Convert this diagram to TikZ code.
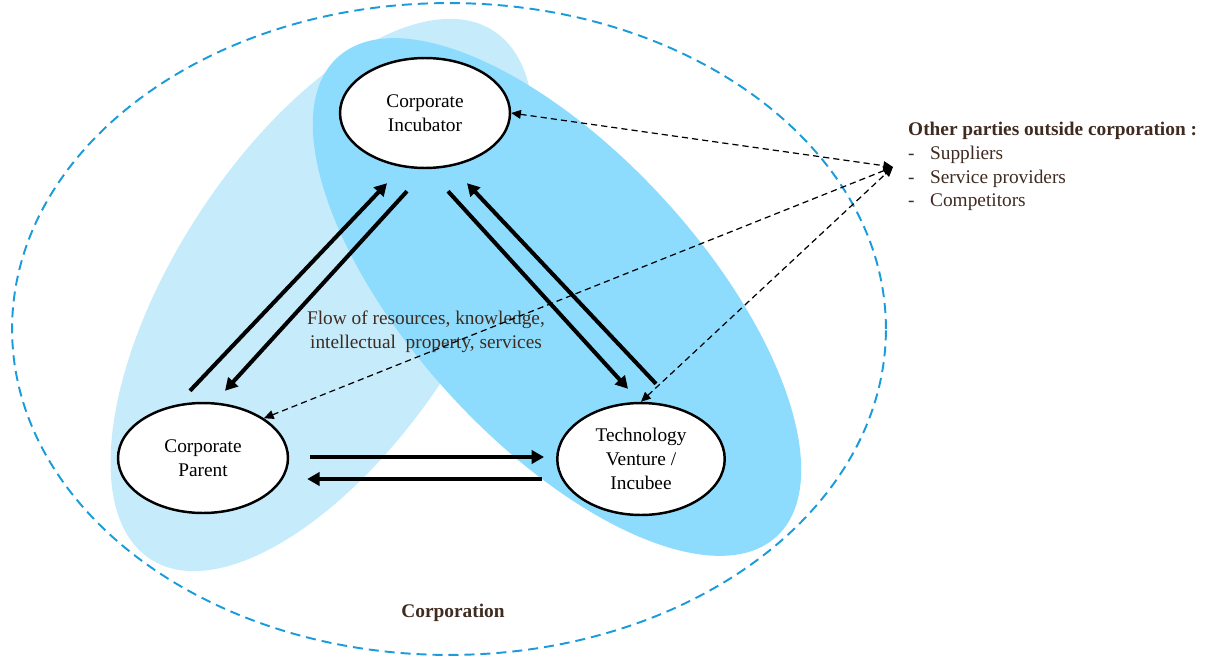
\documentclass[tikz,border=0pt]{standalone}
\usepackage{fontspec}
\setmainfont{Liberation Serif}
\usetikzlibrary{arrows.meta,shapes.geometric}

\definecolor{blobLight}{HTML}{C6ECFC}
\definecolor{blobDark}{HTML}{8EDCFD}
\definecolor{corpBlue}{HTML}{1A9BDA}
\definecolor{textBrown}{HTML}{3F2B20}

\tikzset{
    actor/.style={draw, ellipse, very thick, fill=white, line width=1.4pt,
        minimum width=3.4cm, minimum height=2.2cm, inner sep=0pt, align=center},
    flow/.style={line width=2.3pt, -{Triangle[length=7pt,width=7.5pt]}},
    extlink/.style={line width=0.7pt, dash pattern=on 3.5pt off 2.3pt,
        {Triangle[length=5.5pt,width=5pt]}-{Triangle[length=5.5pt,width=5pt]}},
    brownlabel/.style={text=textBrown}
}

\begin{document}
\begin{tikzpicture}[x=0.02cm, y=-0.02cm, font=\fontsize{11}{13.6}\selectfont]
    \useasboundingbox (0,0) rectangle (1207,659);

    % Corporation boundary
    \draw[corpBlue, line width=1.1pt, dash pattern=on 5.7pt off 3.4pt] (449,329) ellipse (8.74cm and 6.52cm);

    % Overlapping clusters
    \fill[blobLight, rotate around={57:(322,295)}] (322,295) ellipse (6.3cm and 2.95cm);
    \fill[blobDark, rotate around={-47.5:(557,297)}] (557,297) ellipse (6.5cm and 2.9cm);

    % Actors
    \node[actor] (inc) at (425,113) {Corporate\\Incubator};
    \node[actor] (par) at (203,458) {Corporate\\Parent};
    \node[actor, minimum width=3.35cm, minimum height=2.24cm] (ven) at (641,459) {Technology\\Venture /\\Incubee};

    % Flows between actors
    \draw[flow] ([shift={(-13,-11)}]par.north) -- ([shift={(-38,14)}]inc.south);
    \draw[flow] ([shift={(-18,22)}]inc.south) -- ([shift={(22,-11)}]par.north);
    \draw[flow] ([shift={(23,22)}]inc.south) -- ([shift={(-13,-13)}]ven.north);
    \draw[flow] ([shift={(15,-18)}]ven.north) -- ([shift={(42,14)}]inc.south);
    \draw[flow] ([shift={(21,-1)}]par.east) -- ([shift={(-12,-2)}]ven.west);
    \draw[flow] ([shift={(-14,20)}]ven.west) -- ([shift={(18,21)}]par.east);

    \node[brownlabel, align=center] (flowtext) at (426,332) {Flow of resources, knowledge,\\ intellectual\ \ property, services};

    % Outside parties
    \coordinate (ext) at (893,167);
    \draw[extlink] (inc.east) -- (ext);
    \draw[extlink] (par.north east) -- (ext);
    \draw[extlink] (ven.north) -- (ext);

    \node[brownlabel, anchor=west, font=\fontsize{11}{13.6}\selectfont\bfseries] (others) at (902,131) {Other parties outside corporation :};
    \node[brownlabel, anchor=west] (suppliers) at (902,155) {\makebox[12.5pt][l]{-}Suppliers};
    \node[brownlabel, anchor=west] (providers) at (902,179) {\makebox[12.5pt][l]{-}Service providers};
    \node[brownlabel, anchor=west] (competitors) at (902,202) {\makebox[12.5pt][l]{-}Competitors};

    \node[brownlabel, font=\fontsize{11}{13.6}\selectfont\bfseries] (corp) at (453,613) {Corporation};
\end{tikzpicture}
\end{document}
